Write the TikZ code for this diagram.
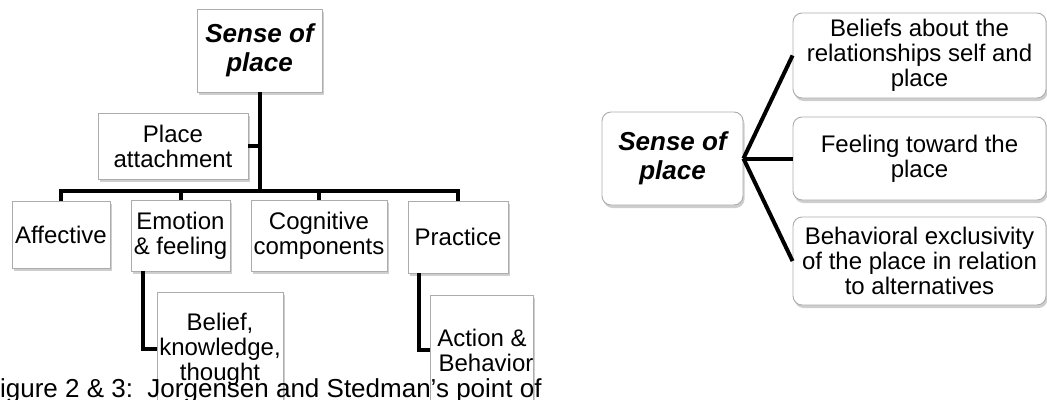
\documentclass[tikz,border=0pt]{standalone}
\usepackage{fontspec}
\setmainfont{Liberation Sans}
\usetikzlibrary{shadows}

\begin{document}
\begin{tikzpicture}[x=1pt,y=-1pt,
  conn/.style={line width=4pt, black},
  sqbox/.style={draw=gray!65, fill=white, line width=0.9pt, align=center, inner sep=0pt,
    font=\fontsize{24}{25}\selectfont,
    drop shadow={shadow xshift=1.5pt, shadow yshift=-3pt, fill=gray!70, opacity=.55}},
  rbox/.style={sqbox, rounded corners=9pt},
  hd/.style={font=\fontsize{26}{29}\selectfont\bfseries\itshape}]
\useasboundingbox (0,0) rectangle (1047,399);
\clip (0,0) rectangle (1047,399);

% ---- hierarchy (left) ----
\node[sqbox, hd, minimum width=125pt, minimum height=83pt] (sop1) at (259.5,50.5) {Sense of\\place};
\node[sqbox, minimum width=150pt, minimum height=66pt] (pa) at (173,146) {Place\\attachment};
\node[sqbox, minimum width=98pt, minimum height=67pt] (aff) at (61,234.5) {Affective};
\node[sqbox, minimum width=99pt, minimum height=71pt] (emo) at (180.5,235.5) {Emotion\\\& feeling};
\node[sqbox, minimum width=136pt, minimum height=71pt] (cog) at (319,235.5) {Cognitive\\components};
\node[sqbox, minimum width=100pt, minimum height=72pt] (prac) at (458,237) {Practice};
\node[sqbox, minimum width=126pt, minimum height=114pt] (bel) at (220,349) {Belief,\\knowledge,\\thought};
\node[sqbox, minimum width=100pt, minimum height=110pt] (act) at (482,350) {Action \&\\\hspace*{8pt}Behavior};

\coordinate (bus) at (0,191);
\draw[conn] (aff.north) -- (aff.north |- bus) -- (prac.north |- bus) -- (prac.north);
\draw[conn] (emo.north) -- (emo.north |- bus);
\draw[conn] (cog.north) -- (cog.north |- bus);
\draw[conn] (sop1.south) -- (sop1.south |- bus);
\draw[conn] (pa.east) -- (pa.east -| sop1.south);
\draw[conn] ([xshift=12pt]emo.south west) |- (bel.west);
\draw[conn] ([xshift=11pt]prac.south west) |- (act.west);

% ---- fan (right) ----
\node[rbox, hd, minimum width=141pt, minimum height=93pt] (sop2) at (672.5,158.5) {Sense of\\place};
\node[rbox, minimum width=253pt, minimum height=85pt] (b1) at (919.5,55.5) {Beliefs about the\\relationships self and\\place};
\node[rbox, minimum width=253pt, minimum height=83pt] (b2) at (919.5,158.5) {Feeling toward the\\place};
\node[rbox, minimum width=253pt, minimum height=88pt] (b3) at (919.5,261) {Behavioral exclusivity\\of the place in relation\\to alternatives};

\draw[conn] (sop2.east) -- (b1.west);
\draw[conn] (sop2.east) -- (b2.west);
\draw[conn] (sop2.east) -- (b3.west);

% ---- caption ----
\node[anchor=base west, inner sep=0pt, font=\fontsize{26}{28}\selectfont] (cap) at (-16,397)
  {Figure 2 \& 3:\ \ Jorgensen and Stedman{\char"27}s point of};
\end{tikzpicture}
\end{document}
